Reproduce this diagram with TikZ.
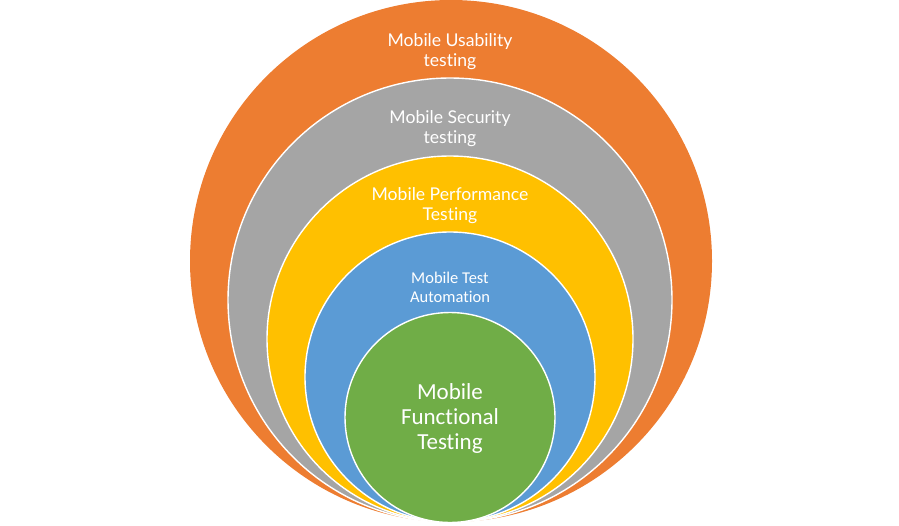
\documentclass[tikz,border=0pt]{standalone}
\usepackage{fontspec}
\setmainfont[Ligatures=NoCommon]{Lato}
\newfontfamily\calib[Ligatures=NoCommon]{Carlito}
\definecolor{corange}{HTML}{ED7D31}
\definecolor{cgray}{HTML}{A5A5A5}
\definecolor{cyellow}{HTML}{FFC000}
\definecolor{cblue}{HTML}{5B9BD5}
\definecolor{cgreen}{HTML}{70AD47}
\tikzset{
  ring/.style={draw=white, line width=1.4pt},
  lbl/.style={text=white, align=center, inner sep=0pt, font=\fontsize{17.6}{20}\selectfont},
}
\begin{document}
\begin{tikzpicture}[x=1pt,y=-1pt]
\useasboundingbox (0,0) rectangle (899,525);
\fill[corange] (451,261) circle (261);
\filldraw[ring, fill=cgray] (450,300) circle (222);
\filldraw[ring, fill=cyellow] (450,339) circle (183);
\filldraw[ring, fill=cblue] (450,377) circle (145);
\filldraw[ring, fill=cgreen] (450,417.5) circle (105);
\node[lbl] (usab) at (450,52) {Mobile Usability\\testing};
\node[lbl] (secu) at (450,129) {Mobile Security\\testing};
\node[lbl] (perf) at (450,206) {Mobile Performance\\Testing};
\node[lbl, font=\calib\fontsize{16.5}{19}\selectfont] (auto) at (450,287.5) {Mobile Test\\Automation};
\node[lbl, font=\calib\fontsize{23}{25}\selectfont] (func) at (450,418) {Mobile\\Functional\\Testing};
\end{tikzpicture}
\end{document}
